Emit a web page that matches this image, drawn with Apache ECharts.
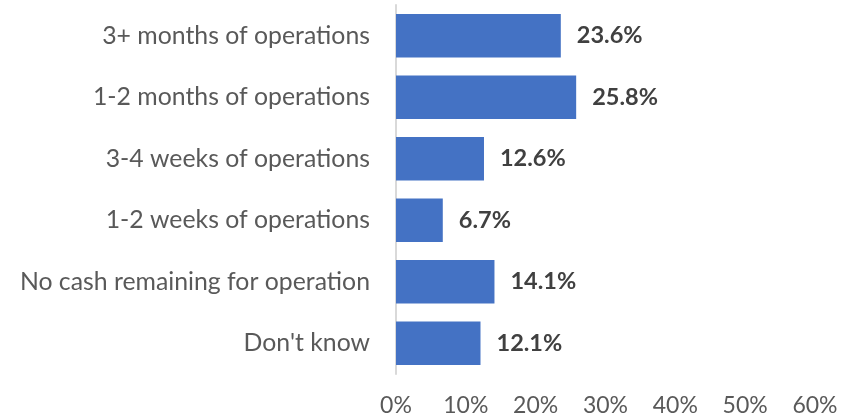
<!DOCTYPE html>
<html>
<head>
<meta charset="utf-8">
<script src="https://cdn.jsdelivr.net/npm/echarts@6/dist/echarts.min.js"></script>
<style>
  html, body { margin: 0; padding: 0; background: #fff; }
  #chart { width: 857px; height: 415px; }
</style>
</head>
<body>
<div id="chart"></div>
<script>
const categories = [
  "3+ months of operations",
  "1-2 months of operations",
  "3-4 weeks of operations",
  "1-2 weeks of operations",
  "No cash remaining for operation",
  "Don't know"
];
const shares = [23.6, 25.8, 12.6, 6.7, 14.1, 12.1];
const axisTicks = [0, 10, 20, 30, 40, 50, 60];

document.addEventListener("DOMContentLoaded", function () {
  const chart = echarts.init(document.getElementById("chart"));
  const font = "Lato, sans-serif";
  const option = {
    animation: false,
    grid: {
      top: 5,
      bottom: 41,
      left: 396,
      right: 42,
      containLabel: false,
      outerBoundsMode: "none"
    },
    xAxis: {
      type: "value",
      min: axisTicks[0],
      max: axisTicks[axisTicks.length - 1],
      interval: 10,
      splitLine: { show: false },
      axisLine: { show: false },
      axisTick: { show: false },
      axisLabel: {
        formatter: "{value}%",
        color: "#595959",
        fontFamily: font,
        fontSize: 23,
        margin: 20
      }
    },
    yAxis: {
      type: "category",
      inverse: true,
      data: categories,
      axisLine: { show: true, lineStyle: { color: "#d9d9d9", width: 2 } },
      axisTick: { show: false },
      axisLabel: {
        color: "#595959",
        fontFamily: font,
        fontSize: 24.8,
        margin: 26
      }
    },
    series: [
      {
        type: "bar",
        data: shares,
        barCategoryGap: "29%",
        itemStyle: { color: "#4472C4" },
        label: {
          show: true,
          position: "right",
          distance: 16,
          formatter: function (p) { return p.value.toFixed(1) + "%"; },
          color: "#404040",
          fontFamily: font,
          fontWeight: "bold",
          fontSize: 23.5
        }
      }
    ]
  };
  chart.setOption(option);
  window.addEventListener("resize", () => chart.resize());
});
</script>
</body>
</html>
